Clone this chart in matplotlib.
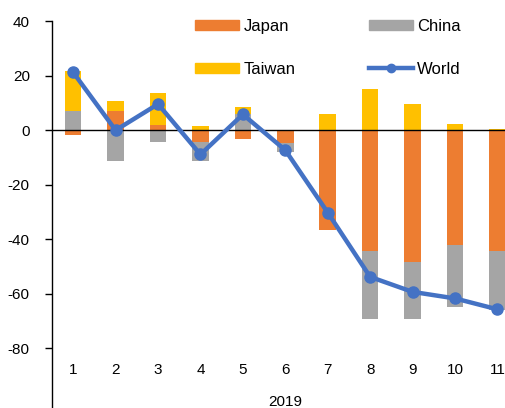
import numpy as np
import matplotlib
matplotlib.use("Agg")
import matplotlib.pyplot as plt
from matplotlib.lines import Line2D
from matplotlib.patches import Patch

plt.rcParams['font.family'] = ['Liberation Sans', 'DejaVu Sans']
plt.rcParams['axes.unicode_minus'] = False

# contributions by month, 2019
months = ["1", "2", "3", "4", "5", "6", "7", "8", "9", "10", "11"]
year_label = "2019"
japan = [-1.8, 7.1, 2.0, -4.3, -3.3, -4.6, -36.7, -44.4, -48.2, -42.1, -44.3]
china = [7.1, -11.4, -4.3, -7.1, 6.0, -3.5, 0.0, -24.8, -21.0, -22.7, -21.7]
taiwan = [14.8, 3.6, 11.6, 1.6, 2.6, 0.0, 6.0, 15.0, 9.5, 2.3, 0.3]
world = [21.2, 0.0, 9.6, -8.9, 5.8, -7.3, -30.2, -53.8, -59.3, -61.7, -65.7]

series = [("Japan", japan, "#ED7D31"),
          ("China", china, "#A5A5A5"),
          ("Taiwan", taiwan, "#FFC000")]

fig = plt.figure(figsize=(5.05, 4.08), dpi=100)
ax = fig.add_axes([52 / 505, 0.0, 466.6 / 505, 1 - 21.2 / 408])

x = np.arange(1, len(months) + 1)
pos_base = np.zeros(len(months))
neg_base = np.zeros(len(months))
for name, vals, col in series:
    v = np.array(vals)
    bottom = np.where(v >= 0, pos_base, neg_base)
    ax.bar(x, v, width=0.39, bottom=bottom, color=col, edgecolor="none", zorder=2)
    pos_base += np.where(v >= 0, v, 0)
    neg_base += np.where(v < 0, v, 0)

ax.axhline(0, color="black", lw=1.0, zorder=3)
ax.plot(x, world, color="#4472C4", lw=3.2, marker="o", ms=8, zorder=4)

ax.set_xlim(0.5, len(months) + 0.5)
ax.set_ylim(-101.9, 40)
ax.set_yticks([-80, -60, -40, -20, 0, 20, 40])
ax.tick_params(axis="y", length=5, width=1, pad=11, labelsize=11, colors="black")
ax.set_xticks([])

for s in ["top", "right", "bottom"]:
    ax.spines[s].set_visible(False)
ax.spines["left"].set_linewidth(1.0)

# month labels and year under the axis
for xi, m in zip(x, months):
    ax.text(xi, -88, m, ha="center", va="center", fontsize=11)
ax.text(6, -99.6, year_label, ha="center", va="center", fontsize=11)

handles = [Patch(color="#ED7D31"), Patch(color="#FFC000"),
           Patch(color="#A5A5A5"),
           Line2D([], [], color="#4472C4", lw=3.2, marker="o", ms=6)]
labels = ["Japan", "Taiwan", "China", "World"]
fig.legend(handles, labels, ncol=2, loc="upper left",
           bbox_to_anchor=(195 / 505, 1 - 19 / 408), frameon=False,
           fontsize=12, handlelength=2.65, handleheight=0.55,
           handletextpad=0.25, labelspacing=1.65, columnspacing=4.4,
           borderpad=0, borderaxespad=0)

fig.savefig("out.png", dpi=100)
